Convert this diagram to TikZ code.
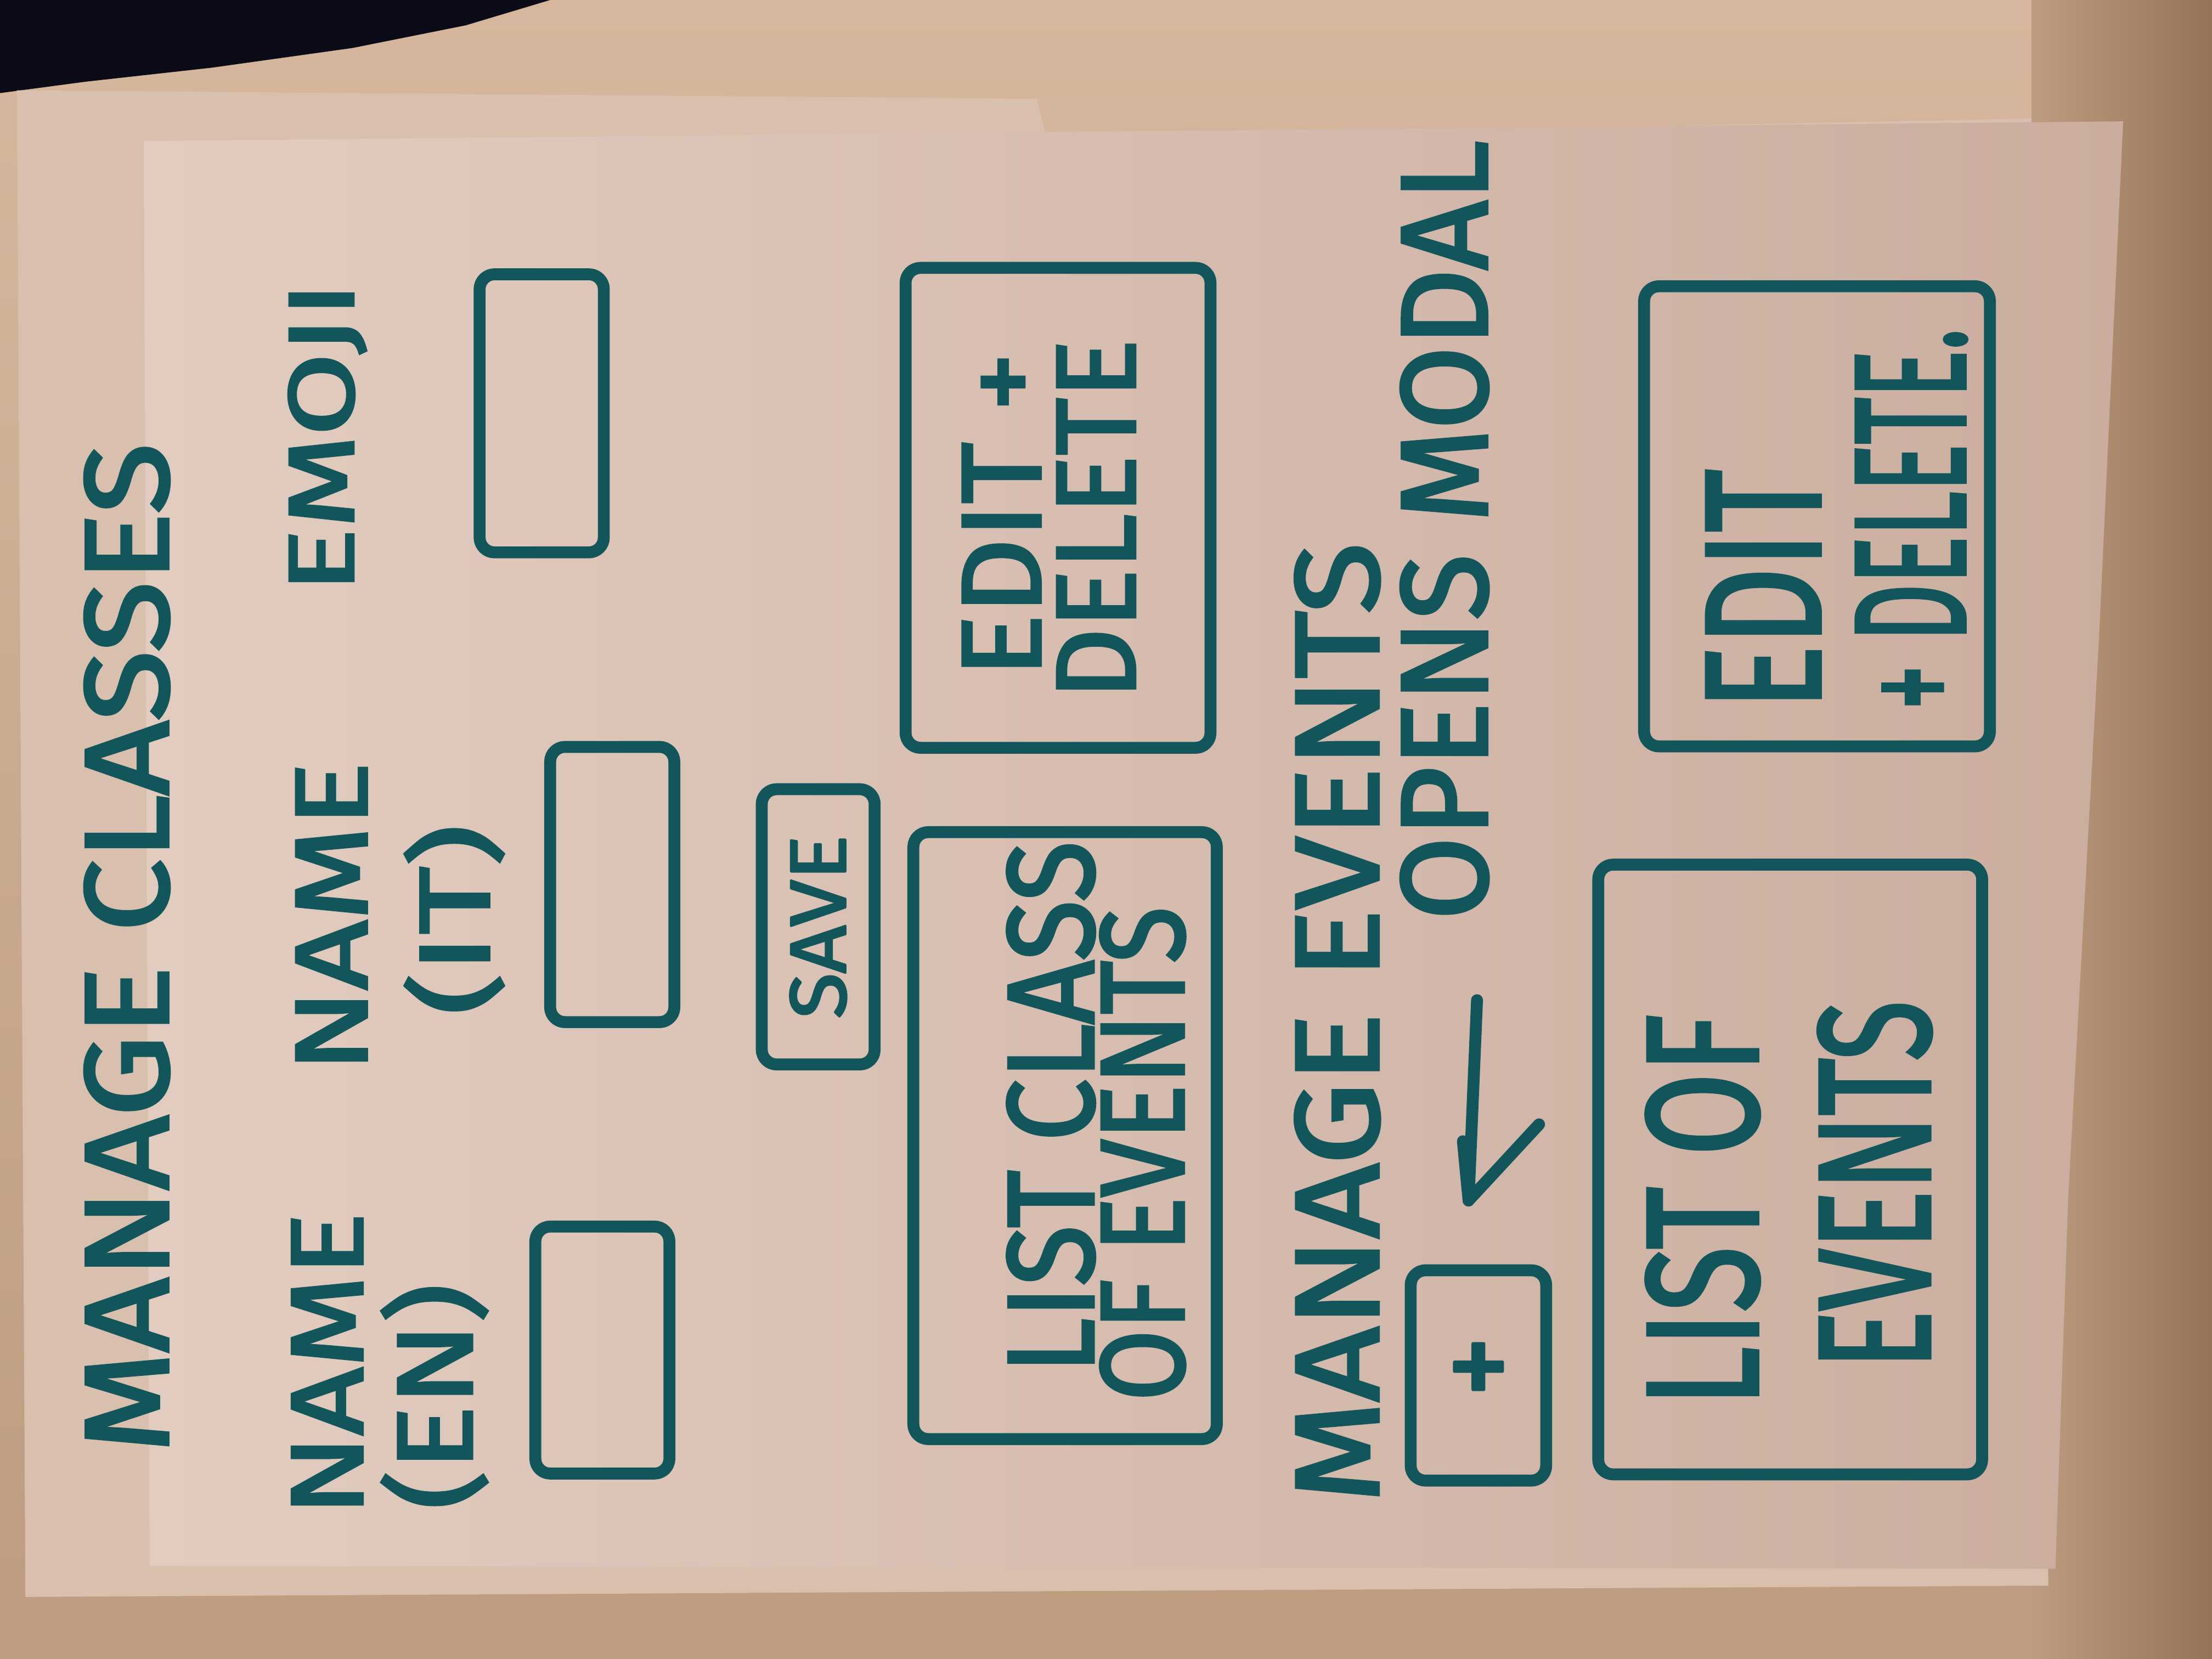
\documentclass[tikz,border=0pt]{standalone}
\usepackage{fontspec}
\setmainfont{Fira Sans}
\usetikzlibrary{arrows.meta}

\definecolor{ink}{HTML}{12555A}
\definecolor{tablelight}{HTML}{D6B79D}
\definecolor{tablemid}{HTML}{BD9C80}
\definecolor{tabledark}{HTML}{967357}
\definecolor{sheetlow}{HTML}{D9BFAE}
\definecolor{paperlight}{HTML}{E2CCC0}
\definecolor{paperdark}{HTML}{CAAD9F}
\definecolor{night}{HTML}{0B0C18}

% marker lettering: text stretched to a given length and height
\newcommand{\hand}[3]{\resizebox*{#1}{#2}{\addfontfeature{FakeBold=2.5}#3}}

\begin{document}
\begin{tikzpicture}[x=0.01cm,y=-0.01cm,
  pen/.style={draw=ink,line width=2.4pt,line cap=round,line join=round},
  field/.style={pen,rounded corners=3pt,inner sep=0pt},
  label/.style={text=ink,rotate=90,inner sep=0pt},
]
\useasboundingbox (0,0) rectangle (1568,1176);

% table and dark corner
\shade[top color=tablelight,bottom color=tablemid] (0,0) rectangle (1568,1176);
\shade[left color=tablemid,right color=tabledark] (1440,0) rectangle (1568,1176);
\fill[night] (0,0) -- (390,0) -- (330,18) -- (250,34) -- (150,48) -- (60,58) -- (0,66) -- cycle;

% sheets of paper
\fill[sheetlow] (12,64) -- (735,70) -- (742,98) -- (1440,84) -- (1452,1124) -- (18,1132) -- cycle;
\shade[left color=paperlight,right color=paperdark]
  (102,100) -- (1505,86) -- (1488,450) -- (1466,850) -- (1457,1112) -- (106,1110) -- cycle;

% --- manage classes -------------------------------------------------
\node[label] (title) at (90,672) {\hand{7.15cm}{0.6cm}{MANAGE CLASSES}};

\node[label] (nameEn) at (232,967) {\hand{2.15cm}{0.5cm}{NAME}};
\node[label] (langEn) at (308,990) {\hand{1.6cm}{0.75cm}{(EN)}};
\node[field,minimum width=0.95cm,minimum height=1.75cm] (fieldEn) at (427,957) {};

\node[label] (nameIt) at (235,650) {\hand{2.2cm}{0.5cm}{NAME}};
\node[label] (langIt) at (322,652) {\hand{1.35cm}{0.7cm}{(IT)}};
\node[field,minimum width=0.88cm,minimum height=1.95cm] (fieldIt) at (434,627) {};

\node[label] (emoji) at (232,310) {\hand{2.2cm}{0.55cm}{EMOJI}};
\node[field,minimum width=0.88cm,minimum height=1.97cm] (fieldEmoji) at (384,293) {};

\node[field,minimum width=0.8cm,minimum height=1.95cm,text=ink] (save) at (580,657)
  {\rotatebox{90}{\hand{1.3cm}{0.4cm}{SAVE}}};

\node[field,minimum width=2.15cm,minimum height=4.3cm] (classList) at (755,805) {};
\node[label] (classListA) at (745,785) {\hand{3.77cm}{0.62cm}{LIST CLASS}};
\node[label] (classListB) at (810,818) {\hand{3.5cm}{0.6cm}{OF EVENTS}};

\node[field,minimum width=2.16cm,minimum height=3.4cm] (classEdit) at (750,360) {};
\node[label] (classEditA) at (710,365) {\hand{2.3cm}{0.55cm}{EDIT +}};
\node[label] (classEditB) at (777,368) {\hand{2.55cm}{0.55cm}{DELETE}};

% --- manage events --------------------------------------------------
\node[label] (events) at (948,725) {\hand{6.8cm}{0.6cm}{MANAGE EVENTS}};
\node[label] (opens) at (1024,376) {\hand{5.52cm}{0.62cm}{OPENS MODAL}};

\node[field,minimum width=0.96cm,minimum height=1.49cm,text=ink] (plus) at (1048,975)
  {\hand{0.45cm}{0.45cm}{+}};

% hand-drawn arrow pointing at the plus button
\coordinate (arrowTail) at (1047,709);
\coordinate (arrowTip) at (1041,851);
\draw[pen] (arrowTail) -- (arrowTip);
\draw[pen] (arrowTip) ++(-4,-42) -- (arrowTip) -- ++(50,-54);

\node[field,minimum width=2.72cm,minimum height=4.32cm] (eventList) at (1269,829) {};
\node[label] (eventListA) at (1207,858) {\hand{2.78cm}{0.8cm}{LIST OF}};
\node[label] (eventListB) at (1329,840) {\hand{2.61cm}{0.8cm}{EVENTS}};

\node[field,minimum width=2.45cm,minimum height=3.26cm] (eventEdit) at (1288,366) {};
\node[label] (eventEditA) at (1250,418) {\hand{1.7cm}{0.8cm}{EDIT}};
\node[label] (eventEditB) at (1355,368) {\hand{2.7cm}{0.78cm}{+ DELETE.}};
\end{tikzpicture}
\end{document}
